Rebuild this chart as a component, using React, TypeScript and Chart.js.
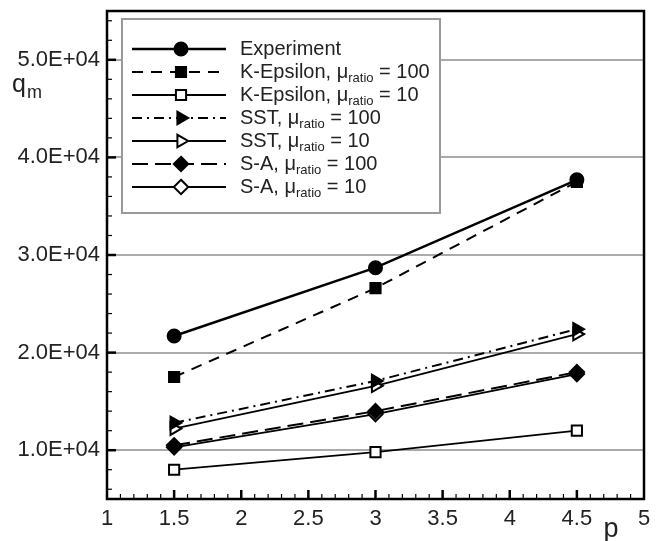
import React, { useEffect, useRef } from 'react';
import { Chart, registerables } from 'chart.js';

Chart.register(...registerables);

// ---- data ----
const pValues = [1.5, 3, 4.5];
const experiment = [21700, 28700, 37700];
const kEps100 = [17500, 26600, 37500];
const kEps10 = [8000, 9800, 12000];
const sst100 = [12800, 17100, 22400];
const sst10 = [12200, 16600, 21900];
const sa100 = [10500, 14000, 18000];
const sa10 = [10300, 13700, 17800];

const xTicks = [1, 1.5, 2, 2.5, 3, 3.5, 4, 4.5, 5];
const yTicks = [10000, 20000, 30000, 40000, 50000];

const legendBase = ['Experiment', 'K-Epsilon, μ', 'K-Epsilon, μ', 'SST, μ', 'SST, μ', 'S-A, μ', 'S-A, μ'];
const legendSub = ['', 'ratio', 'ratio', 'ratio', 'ratio', 'ratio', 'ratio'];
const legendTail = ['', ' = 100', ' = 10', ' = 100', ' = 10', ' = 100', ' = 10'];

const seriesValues = [experiment, kEps100, kEps10, sst100, sst10, sa100, sa10];

type Mk = 'circle' | 'rect' | 'rectRot' | 'triRight';
const markers: Mk[] = ['circle', 'rect', 'rect', 'triRight', 'triRight', 'rectRot', 'rectRot'];
const filled = [true, true, false, true, false, true, false];
const radii = [6.5, 7.2, 7.2, 7.2, 7.2, 7.2, 7.2];
const dashes: number[][] = [[], [11, 8], [], [10, 5, 2, 5], [], [16, 7], []];
const widths = [2.5, 2, 1.8, 2, 1.8, 2, 1.8];

const FONT = '"Liberation Sans", Arial, sans-serif';

function drawMarker(ctx: CanvasRenderingContext2D, m: Mk, x: number, y: number, r: number, fill: boolean) {
  ctx.save();
  ctx.setLineDash([]);
  ctx.beginPath();
  if (m === 'circle') ctx.arc(x, y, r, 0, Math.PI * 2);
  else if (m === 'rect') {
    const s = r * Math.SQRT1_2;
    ctx.rect(x - s, y - s, 2 * s, 2 * s);
  } else if (m === 'rectRot') {
    ctx.moveTo(x, y - r);
    ctx.lineTo(x + r, y);
    ctx.lineTo(x, y + r);
    ctx.lineTo(x - r, y);
    ctx.closePath();
  } else {
    for (let i = 0; i < 3; i++) {
      const a = (i * 2 * Math.PI) / 3;
      const px = x + Math.cos(a) * r;
      const py = y + Math.sin(a) * r;
      if (i === 0) ctx.moveTo(px, py);
      else ctx.lineTo(px, py);
    }
    ctx.closePath();
  }
  ctx.fillStyle = fill ? '#000' : '#fff';
  ctx.fill();
  ctx.lineWidth = 2;
  ctx.strokeStyle = '#000';
  ctx.stroke();
  ctx.restore();
}

function fmtExp(v: number) {
  const [m, e] = v.toExponential(1).split('e');
  const sign = e[0] === '-' ? '-' : '+';
  const digits = e.replace(/^[+-]/, '').padStart(2, '0');
  return `${m}E${sign}${digits}`;
}

const framePlugin = {
  id: 'framePlugin',
  afterDatasetsDraw(chart: any) {
    const ctx: CanvasRenderingContext2D = chart.ctx;
    const { left, right, top, bottom } = chart.chartArea;
    const xs = chart.scales.x;
    const ys = chart.scales.y;
    ctx.save();
    ctx.strokeStyle = '#000';
    ctx.setLineDash([]);
    // y ticks (inward, left side)
    for (let v = 6000; v < 55000; v += 2000) {
      const y = ys.getPixelForValue(v);
      const major = v % 10000 === 0;
      ctx.lineWidth = major ? 2.5 : 1.2;
      ctx.beginPath();
      ctx.moveTo(left, y);
      ctx.lineTo(left + (major ? 9 : 5), y);
      ctx.stroke();
    }
    // x ticks (inward, bottom)
    for (let i = 11; i < 50; i++) {
      const v = i / 10;
      const x = xs.getPixelForValue(v);
      const major = i % 5 === 0;
      ctx.lineWidth = major ? 2.5 : 1.2;
      ctx.beginPath();
      ctx.moveTo(x, bottom);
      ctx.lineTo(x, bottom - (major ? 9 : 5));
      ctx.stroke();
    }
    // frame
    ctx.lineWidth = 2.5;
    ctx.strokeRect(left, top, right - left, bottom - top);

    // legend box
    const lx = 122, ly = 19, lw = 318, lh = 194;
    ctx.fillStyle = '#fff';
    ctx.fillRect(lx, ly, lw, lh);
    ctx.strokeStyle = '#999';
    ctx.lineWidth = 2;
    ctx.strokeRect(lx, ly, lw, lh);

    for (let i = 0; i < legendBase.length; i++) {
      const y = 49 + i * 23;
      ctx.strokeStyle = '#000';
      ctx.lineWidth = widths[i];
      ctx.setLineDash(dashes[i]);
      ctx.beginPath();
      ctx.moveTo(132, y);
      ctx.lineTo(226, y);
      ctx.stroke();
      drawMarker(ctx, markers[i], 181, y, radii[i], filled[i]);
      ctx.fillStyle = '#222';
      ctx.textBaseline = 'middle';
      ctx.textAlign = 'left';
      ctx.font = `20px ${FONT}`;
      let tx = 240;
      ctx.fillText(legendBase[i], tx, y);
      tx += ctx.measureText(legendBase[i]).width;
      if (legendSub[i]) {
        ctx.font = `13px ${FONT}`;
        ctx.fillText(legendSub[i], tx, y + 6);
        tx += ctx.measureText(legendSub[i]).width;
        ctx.font = `20px ${FONT}`;
        ctx.fillText(legendTail[i], tx, y);
      }
    }

    // axis titles
    ctx.fillStyle = '#222';
    ctx.textBaseline = 'alphabetic';
    ctx.textAlign = 'left';
    ctx.font = `25px ${FONT}`;
    ctx.fillText('q', 12, 92);
    const qw = ctx.measureText('q').width;
    ctx.font = `18px ${FONT}`;
    ctx.fillText('m', 12 + qw + 1, 98);
    ctx.font = `27px ${FONT}`;
    ctx.textAlign = 'center';
    ctx.fillText('p', 611, 537);
    ctx.restore();
  },
};

export default function App() {
  const ref = useRef<HTMLCanvasElement>(null);
  useEffect(() => {
    if (!ref.current) return;
    const datasets = seriesValues.map((vals, i) => ({
      label: legendBase[i] + legendSub[i] + legendTail[i],
      data: pValues.map((p, j) => ({ x: p, y: vals[j] })),
      borderColor: '#000',
      backgroundColor: filled[i] ? '#000' : '#fff',
      borderWidth: widths[i],
      borderDash: dashes[i],
      pointStyle: markers[i] === 'triRight' ? 'triangle' : markers[i],
      rotation: markers[i] === 'triRight' ? 90 : 0,
      pointRadius: radii[i],
      pointBorderWidth: 2,
      pointBorderColor: '#000',
      pointBackgroundColor: filled[i] ? '#000' : '#fff',
      tension: 0,
      fill: false,
    }));
    const chart = new Chart(ref.current, {
      type: 'line',
      data: { datasets },
      plugins: [framePlugin],
      options: {
        responsive: false,
        animation: false,
        layout: { padding: { left: 0, right: 13, top: 11, bottom: 0 } },
        plugins: { legend: { display: false }, tooltip: { enabled: false } },
        scales: {
          x: {
            type: 'linear',
            min: 1,
            max: 5,
            afterBuildTicks: (s: any) => {
              s.ticks = xTicks.map((v) => ({ value: v }));
            },
            afterFit: (s: any) => {
              s.height = 42;
              s.paddingLeft = 0;
              s.paddingRight = 0;
            },
            grid: { display: false, drawTicks: false },
            border: { display: false },
            ticks: {
              padding: 7,
              maxRotation: 0,
              autoSkip: false,
              color: '#222',
              font: { family: FONT, size: 22 },
              callback: (v: any) => String(v),
            },
          },
          y: {
            type: 'linear',
            min: 5000,
            max: 55000,
            afterBuildTicks: (s: any) => {
              s.ticks = yTicks.map((v) => ({ value: v }));
            },
            afterFit: (s: any) => {
              s.width = 107;
              s.paddingTop = 0;
              s.paddingBottom = 0;
            },
            grid: { color: '#aaaaaa', lineWidth: 2, drawTicks: false },
            border: { display: false },
            ticks: {
              padding: 7,
              color: '#222',
              font: { family: FONT, size: 22 },
              callback: (v: any) => fmtExp(Number(v)),
            },
          },
        },
      } as any,
    });
    return () => chart.destroy();
  }, []);
  return (
    <div style={{ position: 'fixed', left: 0, top: 0, width: 657, height: 541, background: '#fff' }}>
      <canvas ref={ref} width={657} height={541} style={{ display: 'block' }} />
    </div>
  );
}
